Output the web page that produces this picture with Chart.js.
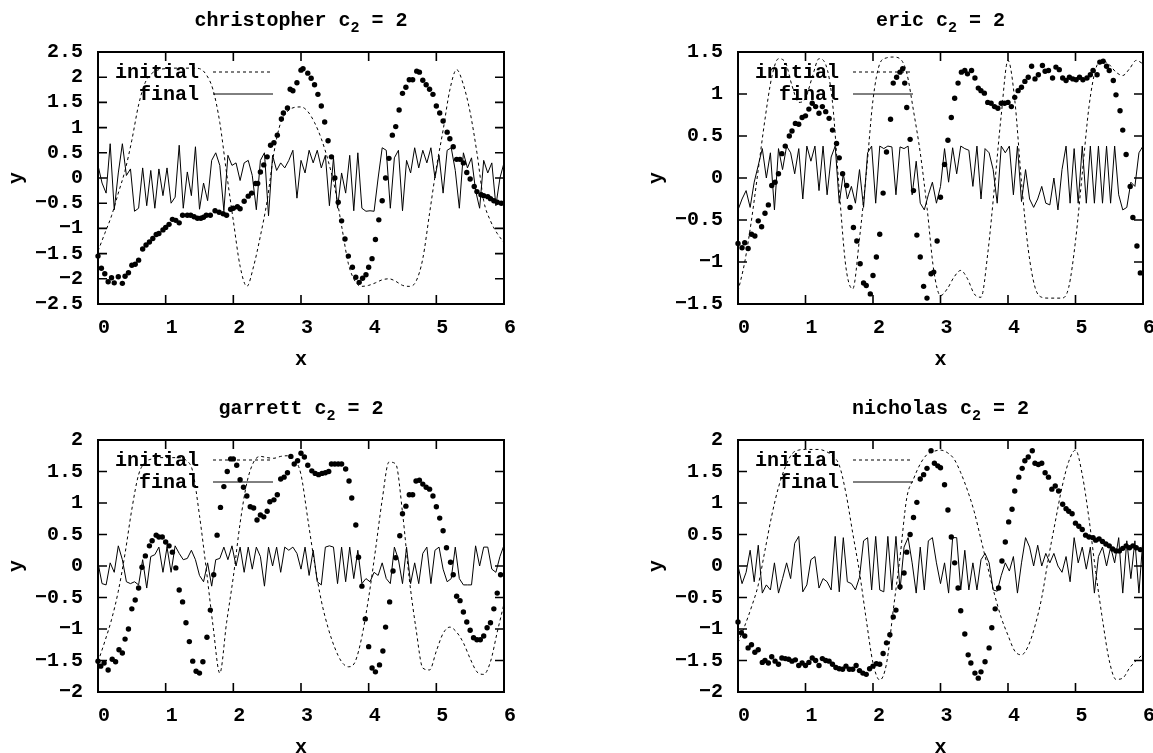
<!DOCTYPE html>
<html>
<head>
<meta charset="utf-8">
<script src="https://cdn.jsdelivr.net/npm/chart.js@4/dist/chart.umd.min.js"></script>
<style>
html,body{margin:0;padding:0;background:#fff;overflow:hidden;}
#wrap{position:relative;width:1153px;height:753px;background:#fff;}
#wrap canvas{position:absolute;left:0;top:0;}
</style>
</head>
<body>
<div id="wrap"></div>
<script>
// ---------------- DATA ----------------
const names = ['christopher', 'eric', 'garrett', 'nicholas'];
const xTickValues = [0, 1, 2, 3, 4, 5, 6];

// x positions of the "initial" curve samples
const initX = [0,0.1,0.2,0.3,0.4,0.5,0.6,0.7,0.8,0.9,1,1.1,1.2,1.3,1.4,1.5,1.6,1.7,1.8,1.9,2,2.1,2.2,2.3,2.4,2.5,2.6,2.7,2.8,2.9,3,3.1,3.2,3.3,3.4,3.5,3.6,3.7,3.8,3.9,4,4.1,4.2,4.3,4.4,4.5,4.6,4.7,4.8,4.9,5,5.1,5.2,5.3,5.4,5.5,5.6,5.7,5.8,5.9,6];

// x positions of the "final" curve samples
const finalX = [0,0.06,0.12,0.18,0.24,0.3,0.36,0.42,0.48,0.54,0.6,0.66,0.72,0.78,0.84,0.9,0.96,1.02,1.08,1.14,1.2,1.26,1.32,1.38,1.44,1.5,1.56,1.62,1.68,1.74,1.8,1.86,1.92,1.98,2.04,2.1,2.16,2.22,2.28,2.34,2.4,2.46,2.52,2.58,2.64,2.7,2.76,2.82,2.88,2.94,3,3.06,3.12,3.18,3.24,3.3,3.36,3.42,3.48,3.54,3.6,3.66,3.72,3.78,3.84,3.9,3.96,4.02,4.08,4.14,4.2,4.26,4.32,4.38,4.44,4.5,4.56,4.62,4.68,4.74,4.8,4.86,4.92,4.98,5.04,5.1,5.16,5.22,5.28,5.34,5.4,5.46,5.52,5.58,5.64,5.7,5.76,5.82,5.88,5.94,6];

// ---- christopher ----
const chrisInitY = [-1.45,-1.1,-0.75,-0.3,0.15,0.75,1.45,1.9,2.08,2.15,
 2.17,2.18,2.18,2.18,2.18,2.17,2.05,1.75,1.1,0.1,
 -0.85,-1.75,-2.15,-1.75,-1.15,-0.45,0.5,1.1,1.32,1.4,
 1.41,1.32,1.1,0.78,0.35,-0.2,-0.95,-1.7,-2.05,-2.15,
 -2.13,-2.08,-2.02,-2.0,-2.05,-2.13,-2.15,-2.05,-1.6,-0.7,
 0.2,0.95,1.75,2.15,1.85,1.3,0.5,-0.45,-0.85,-1.1,
 -1.28];
const chrisFinalY = [0.25,-0.1,-0.3,0.68,-0.63,0.1,0.68,0.05,0.18,-0.66,
 -0.6,0.2,-0.55,0.15,-0.6,0.18,-0.35,0.2,-0.5,-0.38,
 0.65,-0.6,0.12,-0.35,0.62,-0.62,-0.1,-0.45,0.35,0.5,
 0.25,-0.65,0.45,0.25,0.3,-0.05,0.3,0.35,0.05,-0.63,
 0.35,0.5,-0.75,0.45,0.15,0.3,0.2,0.35,0.55,-0.4,
 0.35,0.1,0.55,0.3,0.55,0.2,0.45,-0.55,0.4,-0.6,
 0.1,-0.3,0.45,-0.65,0.5,-0.6,-0.66,-0.65,-0.66,0.0,
 0.6,0.55,-0.6,0.4,0.55,-0.65,0.35,0.1,0.6,0.2,
 0.55,0.3,0.6,0.0,0.45,-0.3,0.55,0.6,0.15,-0.6,
 0.5,0.2,0.4,-0.25,-0.6,0.35,0.1,0.3,-0.55,0.0,
 0.3];
const chrisDotX = [0,0.05,0.1,0.15,0.2,0.24,0.3,0.36,0.4,0.45,
 0.5,0.55,0.6,0.66,0.71,0.76,0.81,0.86,0.9,0.96,
 1,1.05,1.1,1.15,1.2,1.25,1.32,1.37,1.42,1.47,
 1.52,1.56,1.6,1.66,1.73,1.79,1.85,1.9,1.96,2,
 2.06,2.1,2.16,2.22,2.27,2.33,2.36,2.4,2.45,2.5,
 2.55,2.6,2.65,2.71,2.74,2.8,2.84,2.88,2.94,3,
 3.03,3.1,3.15,3.2,3.25,3.3,3.35,3.4,3.45,3.5,
 3.55,3.6,3.65,3.7,3.76,3.81,3.86,3.91,3.96,4,
 4.05,4.1,4.15,4.2,4.25,4.3,4.35,4.4,4.45,4.5,
 4.55,4.6,4.65,4.71,4.75,4.8,4.85,4.9,4.95,5,
 5.05,5.1,5.16,5.2,5.25,5.3,5.35,5.4,5.45,5.5,
 5.56,5.6,5.66,5.7,5.76,5.8,5.85,5.9,5.96];
const chrisDotY = [-1.55,-1.79,-1.9,-2.06,-1.98,-2.08,-1.96,-2.09,-1.95,-1.88,
 -1.73,-1.71,-1.63,-1.41,-1.33,-1.27,-1.2,-1.12,-1.1,-1.03,
 -0.98,-0.92,-0.82,-0.84,-0.89,-0.74,-0.74,-0.74,-0.77,-0.8,
 -0.8,-0.78,-0.74,-0.74,-0.65,-0.68,-0.71,-0.74,-0.62,-0.6,
 -0.57,-0.61,-0.46,-0.36,-0.3,-0.11,-0.11,0.12,0.26,0.42,
 0.65,0.7,0.85,1.17,1.29,1.39,1.76,1.73,1.89,2.14,
 2.17,2.08,1.98,1.85,1.66,1.43,1.11,0.74,0.42,0,
 -0.48,-0.85,-1.21,-1.55,-1.77,-1.97,-2.07,-1.99,-1.92,-1.77,
 -1.6,-1.22,-0.83,-0.45,0,0.39,0.85,1.02,1.35,1.68,
 1.8,1.95,1.95,2.12,2.1,1.94,1.85,1.76,1.66,1.43,
 1.29,1.13,0.91,0.78,0.62,0.37,0.37,0.3,0.11,-0.02,
 -0.17,-0.27,-0.33,-0.35,-0.37,-0.41,-0.45,-0.48,-0.5];

// ---- eric ----
const ericInitY = [-1.35,-1.0,-0.5,0.1,0.7,1.2,1.42,1.38,1.1,0.9,
 0.95,1.2,1.42,1.35,0.9,-0.15,-1.07,-1.32,-0.72,0.05,
 0.93,1.36,1.43,1.44,1.42,1.25,0.8,0.3,-0.35,-1.1,
 -1.4,-1.32,-1.18,-1.1,-1.2,-1.38,-1.42,-0.9,-0.1,0.75,
 1.4,0.93,-0.05,-0.85,-1.3,-1.42,-1.43,-1.43,-1.43,-1.3,
 -0.75,0.05,0.85,1.3,1.4,1.35,1.26,1.22,1.3,1.4,
 1.36];
const ericFinalY = [-0.38,-0.25,-0.15,-0.35,-0.05,0.15,0.35,0.0,0.3,-0.38,
 0.35,0.1,0.38,0.3,0.05,0.35,-0.25,0.38,0.2,0.38,
 -0.15,0.38,-0.2,0.25,0.38,-0.3,0.05,-0.25,-0.1,-0.3,
 0.1,-0.35,0.3,0.38,-0.3,0.38,0.35,0.38,0.37,-0.2,
 0.37,0.35,0.38,-0.2,0.2,-0.3,-0.38,-0.2,-0.05,-0.3,
 -0.1,0.35,-0.05,0.36,0.05,0.38,0.35,0.33,-0.1,0.38,
 -0.25,0.35,0.3,0.1,-0.3,0.38,0.3,0.38,-0.2,0.38,
 -0.28,0.1,-0.25,-0.35,-0.25,-0.1,-0.3,-0.32,0.0,-0.38,
 0.1,0.38,-0.3,0.35,-0.3,0.38,-0.3,0.38,-0.3,0.38,
 -0.3,0.38,-0.3,0.38,-0.2,-0.38,-0.35,-0.05,-0.1,0.3,
 0.38];
const ericDotX = [0,0.06,0.1,0.15,0.2,0.25,0.3,0.35,0.4,0.45,
 0.5,0.55,0.6,0.65,0.7,0.76,0.8,0.85,0.9,0.95,
 1,1.05,1.1,1.15,1.2,1.25,1.3,1.35,1.4,1.46,
 1.5,1.55,1.61,1.66,1.71,1.76,1.81,1.86,1.9,1.96,
 2,2.05,2.1,2.15,2.2,2.26,2.3,2.35,2.4,2.44,
 2.47,2.5,2.55,2.6,2.65,2.7,2.75,2.8,2.86,2.9,
 2.95,3,3.06,3.11,3.16,3.21,3.26,3.31,3.36,3.4,
 3.46,3.51,3.56,3.6,3.65,3.7,3.75,3.8,3.85,3.9,
 3.95,4,4.05,4.1,4.15,4.2,4.25,4.3,4.35,4.4,
 4.45,4.51,4.55,4.6,4.66,4.71,4.76,4.81,4.86,4.91,
 4.96,5.01,5.06,5.11,5.17,5.22,5.26,5.32,5.36,5.41,
 5.46,5.5,5.56,5.6,5.66,5.7,5.75,5.81,5.85,5.91,
 5.96];
const ericDotY = [-0.78,-0.83,-0.77,-0.84,-0.67,-0.69,-0.51,-0.58,-0.42,-0.32,
 -0.09,-0.05,0.05,0.29,0.38,0.5,0.56,0.65,0.64,0.72,
 0.74,0.82,0.89,0.85,0.77,0.85,0.79,0.71,0.57,0.41,
 0.24,0.05,-0.09,-0.35,-0.59,-0.75,-1.02,-1.25,-1.28,-1.38,
 -1.16,-0.94,-0.67,-0.18,0.31,0.7,1.13,1.2,1.26,1.3,
 1.13,0.84,0.46,-0.15,-0.68,-0.94,-1.29,-1.43,-1.14,-1.12,
 -0.75,-0.23,0.16,0.45,0.72,0.95,1.13,1.26,1.28,1.24,
 1.28,1.19,1.07,1.04,1.01,0.9,0.89,0.85,0.83,0.89,
 0.89,0.9,0.85,0.96,1.04,1.08,1.15,1.2,1.33,1.18,
 1.23,1.34,1.27,1.28,1.19,1.32,1.29,1.19,1.16,1.2,
 1.18,1.17,1.2,1.17,1.19,1.23,1.28,1.23,1.38,1.39,
 1.33,1.28,1.16,0.99,0.8,0.57,0.28,-0.1,-0.47,-0.81,
 -1.13];

// ---- garrett ----
const garrInitY = [-1.52,-1.2,-0.85,-0.4,0.2,0.9,1.45,1.65,1.7,1.72,
 1.72,1.72,1.72,1.68,1.5,0.8,-0.05,-0.95,-1.7,-0.9,
 -0.17,0.68,1.32,1.65,1.74,1.72,1.71,1.74,1.75,1.7,
 1.45,0.75,0.05,-0.55,-0.98,-1.3,-1.52,-1.6,-1.52,-1.12,
 -0.5,0.25,1.05,1.65,1.62,0.85,-0.2,-1.0,-1.62,-1.65,
 -1.35,-1.07,-0.97,-1.05,-1.22,-1.47,-1.68,-1.72,-1.52,-1.05,
 -0.6];
const garrFinalY = [0.05,-0.28,-0.3,0.05,-0.1,0.32,0.1,-0.25,-0.28,-0.25,
 -0.3,0.1,-0.35,0.15,0.18,0.3,-0.1,0.3,-0.1,0.32,
 0.2,0.1,0.12,0.25,0.1,-0.15,-0.25,0.05,-0.32,0.1,
 0.12,0.3,0.1,0.32,0.0,0.3,-0.1,0.3,-0.05,0.3,
 0.15,-0.32,0.3,0.0,0.3,-0.1,0.3,0.25,0.3,0.2,
 -0.05,0.3,-0.15,0.25,-0.25,-0.3,0.3,0.32,0.3,-0.28,
 0.3,-0.25,0.3,-0.2,0.25,-0.28,-0.2,-0.25,-0.1,-0.15,
 0.05,-0.2,-0.28,0.3,0.1,-0.28,0.3,-0.28,0.05,-0.28,
 0.2,0.3,-0.28,0.25,0.3,-0.05,-0.25,-0.2,0.3,-0.2,
 -0.3,-0.3,-0.3,0.32,0.0,0.3,0.3,-0.05,-0.1,0.15,
 0.33];
const garrDotX = [0,0.04,0.09,0.15,0.21,0.26,0.31,0.36,0.4,0.45,
 0.5,0.55,0.6,0.65,0.7,0.76,0.8,0.86,0.9,0.95,
 1,1.05,1.1,1.15,1.2,1.25,1.3,1.35,1.4,1.45,
 1.5,1.55,1.61,1.66,1.71,1.76,1.81,1.86,1.91,1.96,
 2,2.05,2.1,2.15,2.2,2.25,2.3,2.35,2.4,2.45,
 2.5,2.54,2.6,2.65,2.7,2.75,2.8,2.85,2.9,2.95,
 3,3.05,3.1,3.16,3.21,3.26,3.31,3.36,3.41,3.45,
 3.5,3.55,3.6,3.66,3.71,3.75,3.81,3.85,3.9,3.95,
 4,4.05,4.1,4.16,4.21,4.25,4.31,4.36,4.4,4.46,
 4.5,4.55,4.6,4.65,4.7,4.75,4.8,4.85,4.9,4.95,
 5,5.05,5.1,5.15,5.21,5.25,5.3,5.35,5.4,5.45,
 5.5,5.55,5.6,5.65,5.7,5.75,5.8,5.85,5.9,5.95];
const garrDotY = [-1.51,-1.59,-1.54,-1.65,-1.48,-1.52,-1.33,-1.38,-1.16,-1.0,
 -0.68,-0.54,-0.35,-0.02,0.16,0.32,0.4,0.49,0.46,0.46,
 0.38,0.32,0.22,-0.03,-0.38,-0.57,-0.9,-1.2,-1.51,-1.67,
 -1.7,-1.52,-1.13,-0.7,-0.14,0.49,0.93,1.26,1.5,1.7,
 1.7,1.6,1.37,1.25,1.11,0.94,0.92,0.73,0.81,0.78,
 0.87,1.02,1.05,1.13,1.38,1.41,1.48,1.74,1.62,1.67,
 1.79,1.73,1.6,1.51,1.47,1.45,1.47,1.48,1.5,1.62,
 1.62,1.62,1.62,1.54,1.35,1.08,0.65,0.14,-0.32,-0.84,
 -1.28,-1.62,-1.68,-1.57,-1.35,-0.97,-0.57,-0.08,0.13,0.48,
 0.83,0.95,1.13,1.13,1.35,1.36,1.3,1.25,1.22,1.11,
 0.94,0.76,0.56,0.29,0.06,-0.14,-0.48,-0.55,-0.73,-0.89,
 -1.02,-1.14,-1.17,-1.17,-1.11,-0.98,-0.9,-0.68,-0.43,-0.14];

// ---- nicholas ----
const nichInitY = [-1.22,-0.95,-0.65,-0.3,0.25,0.8,1.25,1.57,1.78,1.84,
 1.85,1.85,1.85,1.82,1.75,1.6,1.15,0.52,-0.1,-0.85,
 -1.54,-1.81,-1.55,-0.7,0.14,1.08,1.38,1.62,1.77,1.82,
 1.84,1.8,1.7,1.48,1.2,0.86,0.42,-0.02,-0.45,-0.82,
 -1.1,-1.35,-1.41,-1.27,-0.95,-0.5,0.13,0.7,1.25,1.66,
 1.84,1.45,0.75,-0.1,-0.85,-1.5,-1.8,-1.78,-1.62,-1.5,
 -1.4];
const nichFinalY = [0.0,-0.28,-0.1,0.25,-0.25,0.33,-0.43,-0.3,-0.38,0.05,
 -0.43,-0.2,0.05,-0.2,0.36,0.47,-0.41,-0.3,0.1,0.15,
 -0.35,-0.2,-0.25,-0.38,0.47,-0.41,0.45,-0.25,-0.28,-0.38,
 -0.18,0.4,0.45,-0.38,0.47,-0.38,-0.41,0.47,-0.38,0.47,
 -0.38,0.3,0.45,0.05,-0.43,0.3,-0.38,0.4,0.45,0.05,
 -0.28,0.05,-0.43,0.45,0.45,-0.38,0.25,-0.38,0.05,-0.38,
 0.1,0.2,0.05,-0.38,-0.4,-0.15,0.05,-0.08,0.15,-0.43,
 0.05,0.45,0.3,0.0,0.33,0.0,0.2,0.05,0.2,0.0,
 -0.1,0.15,-0.25,0.45,0.05,0.3,-0.05,0.3,-0.43,0.15,
 0.3,0.0,0.3,0.05,0.45,-0.43,0.4,-0.2,0.4,-0.43,
 0.45];
const nichDotX = [0,0.05,0.1,0.15,0.2,0.25,0.3,0.36,0.4,0.45,
 0.5,0.55,0.6,0.65,0.7,0.75,0.8,0.85,0.9,0.95,
 1,1.05,1.1,1.15,1.2,1.25,1.3,1.35,1.4,1.45,
 1.5,1.55,1.6,1.65,1.7,1.75,1.8,1.85,1.9,1.95,
 2,2.05,2.1,2.15,2.2,2.25,2.3,2.34,2.4,2.46,
 2.5,2.55,2.6,2.65,2.7,2.75,2.8,2.86,2.91,2.96,
 3,3.06,3.11,3.16,3.21,3.26,3.3,3.36,3.41,3.45,
 3.51,3.56,3.6,3.66,3.72,3.76,3.81,3.86,3.91,3.96,
 4.01,4.06,4.1,4.16,4.21,4.25,4.3,4.36,4.4,4.45,
 4.5,4.55,4.6,4.65,4.7,4.75,4.81,4.86,4.9,4.95,
 5,5.05,5.1,5.15,5.2,5.26,5.3,5.35,5.4,5.45,
 5.5,5.55,5.6,5.65,5.7,5.75,5.8,5.85,5.9,5.96];
const nichDotY = [-0.89,-1.06,-1.11,-1.3,-1.25,-1.37,-1.33,-1.53,-1.5,-1.54,
 -1.44,-1.51,-1.56,-1.46,-1.47,-1.48,-1.51,-1.49,-1.58,-1.54,
 -1.58,-1.53,-1.46,-1.5,-1.58,-1.47,-1.5,-1.51,-1.56,-1.61,
 -1.63,-1.64,-1.59,-1.64,-1.64,-1.58,-1.66,-1.7,-1.72,-1.63,
 -1.59,-1.55,-1.56,-1.39,-1.22,-1.09,-0.81,-0.7,-0.33,-0.11,
 0.22,0.5,0.77,1.01,1.38,1.45,1.55,1.83,1.63,1.59,
 1.56,1.29,0.89,0.46,0.05,-0.35,-0.71,-1.08,-1.41,-1.54,
 -1.7,-1.78,-1.68,-1.52,-1.3,-0.98,-0.68,-0.35,0.08,0.38,
 0.7,0.9,1.19,1.41,1.55,1.67,1.73,1.83,1.63,1.61,
 1.63,1.48,1.41,1.22,1.27,1.19,0.98,0.91,0.87,0.83,
 0.68,0.63,0.58,0.49,0.46,0.45,0.41,0.43,0.39,0.35,
 0.32,0.27,0.24,0.24,0.28,0.32,0.29,0.32,0.29,0.26];

// y-axis ranges of the four panels
const yRanges = [[-2.5, 2.5], [-1.5, 1.5], [-2, 2], [-2, 2]];

// ---------------- LAYOUT / STYLE ----------------
const W = 1153, H = 753;
const FONT = '"Liberation Mono", "Courier New", monospace';
const boxes = [
  {L: 98,  T: 52,  R: 504,  B: 304},
  {L: 738, T: 52,  R: 1143, B: 304},
  {L: 98,  T: 440, R: 504,  B: 692},
  {L: 738, T: 440, R: 1143, B: 692}
];
const Y_AXIS_W = 98, X_AXIS_H = 45;

function zip(xs, ys) {
  const n = Math.min(xs.length, ys.length);
  const out = [];
  for (let i = 0; i < n; i++) out.push({x: xs[i], y: ys[i]});
  return out;
}
function fmt(v) {
  const r = Math.round(v * 10) / 10;
  if (Math.abs(r) < 1e-9) return '0';
  return (r < 0 ? '\u2212' : '') + String(Math.abs(r));
}

const series = [
  {init: chrisInitY, fin: chrisFinalY, dx: chrisDotX, dy: chrisDotY},
  {init: ericInitY,  fin: ericFinalY,  dx: ericDotX,  dy: ericDotY},
  {init: garrInitY,  fin: garrFinalY,  dx: garrDotX,  dy: garrDotY},
  {init: nichInitY,  fin: nichFinalY,  dx: nichDotX,  dy: nichDotY}
];

const deco = {
  id: 'deco',
  afterDraw(chart, args, opts) {
    const ctx = chart.ctx, a = chart.chartArea;
    const xs = chart.scales.x, ys = chart.scales.y;
    ctx.save();
    ctx.strokeStyle = '#000';
    ctx.fillStyle = '#000';
    // inward tick marks on all four sides
    ctx.lineWidth = 1.6;
    ctx.beginPath();
    const TL = 9;
    xs.ticks.forEach(t => {
      const x = xs.getPixelForValue(t.value);
      ctx.moveTo(x, a.bottom); ctx.lineTo(x, a.bottom - TL);
      ctx.moveTo(x, a.top); ctx.lineTo(x, a.top + TL);
    });
    ys.ticks.forEach(t => {
      const y = ys.getPixelForValue(t.value);
      ctx.moveTo(a.left, y); ctx.lineTo(a.left + TL, y);
      ctx.moveTo(a.right, y); ctx.lineTo(a.right - TL, y);
    });
    ctx.stroke();
    // frame
    ctx.lineWidth = 2;
    ctx.strokeRect(a.left, a.top, a.right - a.left, a.bottom - a.top);

    // title with subscript
    const cx = (a.left + a.right) / 2;
    const main = opts.name + ' c', sub = '2', rest = ' = 2';
    ctx.font = 'bold 20px ' + FONT;
    const w1 = ctx.measureText(main).width, w3 = ctx.measureText(rest).width;
    ctx.font = 'bold 15px ' + FONT;
    const w2 = ctx.measureText(sub).width;
    let x0 = cx - (w1 + w2 + w3) / 2;
    const by = a.top - 26;
    ctx.textAlign = 'left'; ctx.textBaseline = 'alphabetic';
    ctx.font = 'bold 20px ' + FONT;
    ctx.fillText(main, x0, by);
    ctx.font = 'bold 15px ' + FONT;
    ctx.fillText(sub, x0 + w1, by + 6);
    ctx.font = 'bold 20px ' + FONT;
    ctx.fillText(rest, x0 + w1 + w2, by);

    // axis titles
    ctx.textAlign = 'center'; ctx.textBaseline = 'middle';
    ctx.fillText('x', cx, a.bottom + 56);
    ctx.save();
    ctx.translate(a.left - 81, (a.top + a.bottom) / 2);
    ctx.rotate(-Math.PI / 2);
    ctx.fillText('y', 0, 0);
    ctx.restore();

    // key
    const ds = chart.data.datasets;
    const keyRows = [ds[2], ds[1]];
    ctx.textAlign = 'right'; ctx.textBaseline = 'middle';
    keyRows.forEach((d, i) => {
      const y = a.top + 21 + i * 22;
      ctx.font = 'bold 20px ' + FONT;
      ctx.fillText(d.label, a.left + 101, y);
      ctx.beginPath();
      ctx.lineWidth = d.borderWidth;
      ctx.setLineDash(d.borderDash || []);
      ctx.moveTo(a.left + 115, y - 1);
      ctx.lineTo(a.left + 175, y - 1);
      ctx.stroke();
      ctx.setLineDash([]);
    });
    ctx.restore();
  }
};

const wrap = document.getElementById('wrap');
names.forEach((name, k) => {
  const b = boxes[k], s = series[k];
  const cv = document.createElement('canvas');
  cv.width = W; cv.height = H;
  cv.style.width = W + 'px'; cv.style.height = H + 'px';
  wrap.appendChild(cv);
  const tickFont = {family: FONT, size: 20, weight: 'bold'};
  new Chart(cv.getContext('2d'), {
    type: 'line',
    data: {
      datasets: [
        {label: 'dots', data: zip(s.dx, s.dy), showLine: false,
         pointRadius: 2.7, pointHoverRadius: 2.7, pointBorderWidth: 0,
         pointBackgroundColor: '#000', borderColor: '#000', order: 0, clip: false},
        {label: 'final', data: zip(finalX, s.fin), borderColor: '#000', borderWidth: 1,
         pointRadius: 0, pointHoverRadius: 0, tension: 0, order: 1, fill: false},
        {label: 'initial', data: zip(initX, s.init), borderColor: '#000', borderWidth: 1,
         borderDash: [3, 3], pointRadius: 0, pointHoverRadius: 0,
         cubicInterpolationMode: 'monotone', order: 2, fill: false}
      ]
    },
    options: {
      responsive: false, animation: false, devicePixelRatio: 1, events: [],
      layout: {padding: {left: b.L - Y_AXIS_W, top: b.T, right: W - b.R, bottom: H - b.B - X_AXIS_H}},
      plugins: {legend: {display: false}, tooltip: {enabled: false}, deco: {name: name}},
      scales: {
        x: {
          type: 'linear', min: 0, max: 6,
          afterBuildTicks: sc => { sc.ticks = xTickValues.map(v => ({value: v})); },
          ticks: {font: tickFont, color: '#000', padding: 12, labelOffset: 6,
                  maxRotation: 0, autoSkip: false, callback: v => fmt(v)},
          grid: {display: false, drawTicks: false}, border: {display: false},
          afterFit: sc => { sc.height = X_AXIS_H; sc.paddingLeft = 0; sc.paddingRight = 0; }
        },
        y: {
          type: 'linear', min: yRanges[k][0], max: yRanges[k][1],
          ticks: {font: tickFont, color: '#000', padding: 15, stepSize: 0.5,
                  autoSkip: false, callback: v => fmt(v)},
          grid: {display: false, drawTicks: false}, border: {display: false},
          afterFit: sc => { sc.width = Y_AXIS_W; sc.paddingTop = 0; sc.paddingBottom = 0; }
        }
      }
    },
    plugins: [deco]
  });
});
</script>
</body>
</html>
